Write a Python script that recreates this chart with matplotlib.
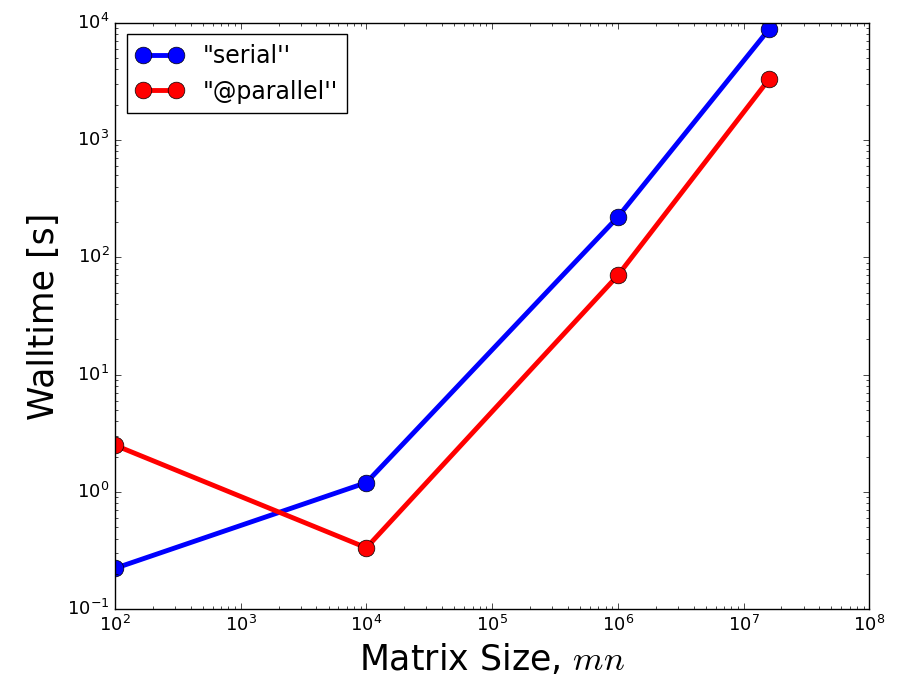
import matplotlib
matplotlib.use('Agg')
import matplotlib.pyplot as plt

plt.style.use('classic')

matrix_size = [1e2, 1e4, 1e6, 1.6e7]
serial_time = [0.223, 1.2, 220, 8800]
parallel_time = [2.5, 0.334, 70, 3300]

fig = plt.figure(figsize=(8.98, 6.83), dpi=100, facecolor='white')
ax = fig.add_axes([0.128, 0.108, 0.84, 0.859])

ax.loglog(matrix_size, serial_time, 'b-o', lw=3.5, ms=12, label='"serial\'\'')
ax.loglog(matrix_size, parallel_time, 'r-o', lw=3.5, ms=12, label='"@parallel\'\'')

ax.set_xlim(1e2, 1e8)
ax.set_ylim(1e-1, 1e4)
ax.tick_params(labelsize=13)
ax.set_xlabel('Matrix Size, $mn$', fontsize=25)
ax.set_ylabel('Walltime [s]', fontsize=25, labelpad=4)
ax.legend(loc='upper left', fontsize=17, numpoints=2)

fig.savefig('out.png', dpi=100, facecolor='white')
